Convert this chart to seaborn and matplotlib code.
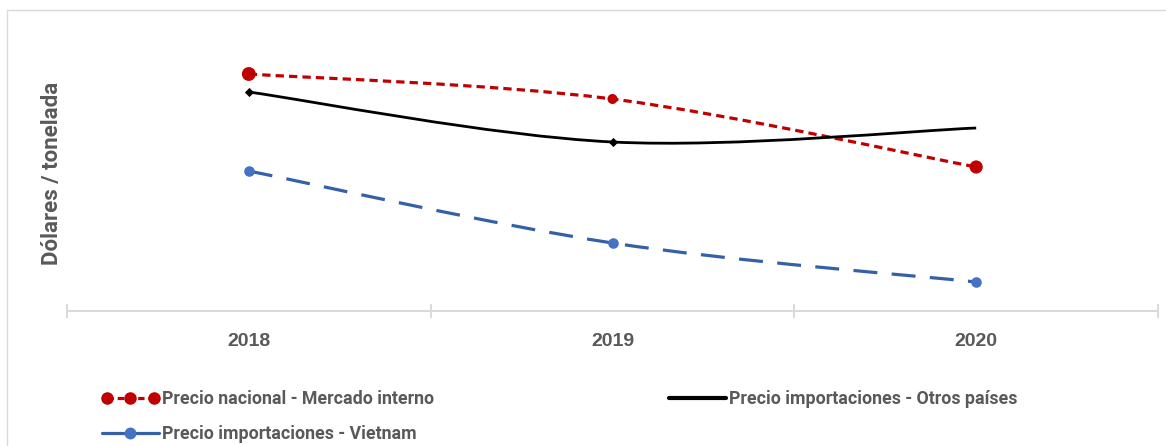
import numpy as np
import pandas as pd
import matplotlib
matplotlib.use("Agg")
import matplotlib.pyplot as plt
import seaborn as sns
from matplotlib.path import Path
from matplotlib.patches import PathPatch, Rectangle
from matplotlib.lines import Line2D
from matplotlib.legend_handler import HandlerLine2D

# ---- data (relative values, Dólares / tonelada) ----
years = ["2018", "2019", "2020"]
precio_nacional = [237, 212, 144]
precio_otros = [219, 169, 183]
precio_vietnam = [140, 68, 29]
series_names = ["Precio nacional - Mercado interno",
                "Precio importaciones - Otros países",
                "Precio importaciones - Vietnam"]

sns.set_theme(style="white")
FONT = ["Liberation Sans", "DejaVu Sans"]
NARROW = ["Roboto", "Liberation Sans", "DejaVu Sans"]
plt.rcParams["font.family"] = FONT
TXT = "#595959"

W, H = 1166, 446
fig = plt.figure(figsize=(W / 100, H / 100), dpi=100)
ax = fig.add_axes([67 / W, 1 - 311 / H, (1158 - 67) / W, (311 - 20) / H])

x = np.arange(len(years))

def smooth_path(xs, ys):
    pts = np.column_stack([xs, ys]).astype(float)
    n = len(pts)
    verts = [pts[0]]
    codes = [Path.MOVETO]
    for i in range(n - 1):
        p0 = pts[i - 1] if i > 0 else pts[i]
        p1 = pts[i]
        p2 = pts[i + 1]
        p3 = pts[i + 2] if i + 2 < n else pts[i + 1]
        c1 = p1 + (p2 - p0) / 6.0
        c2 = p2 - (p3 - p1) / 6.0
        verts += [c1, c2, p2]
        codes += [Path.CURVE4] * 3
    return Path(np.array(verts), codes)

RED = "#C00000"
BLUE_L = "#3560A8"
BLUE_M = "#4472C4"
BLACK = "#000000"

red_dash = (0, (2.6, 1.6))
blue_dash = (0, (7.5, 4.5))

ax.add_patch(PathPatch(smooth_path(x, precio_nacional), fill=False, ec=RED,
                       lw=2.3, ls=red_dash, capstyle="butt", zorder=2))
ax.add_patch(PathPatch(smooth_path(x, precio_otros), fill=False, ec=BLACK,
                       lw=2.0, ls="-", zorder=2))
ax.add_patch(PathPatch(smooth_path(x, precio_vietnam), fill=False, ec=BLUE_L,
                       lw=2.3, ls=blue_dash, capstyle="butt", zorder=2))

df_red = pd.DataFrame({"x": x, "y": precio_nacional})
df_blk = pd.DataFrame({"x": x[:2], "y": precio_otros[:2]})
df_blu = pd.DataFrame({"x": x, "y": precio_vietnam})
sns.scatterplot(data=df_red, x="x", y="y", ax=ax, color=RED, s=[100, 52, 90],
                linewidth=0, zorder=3, legend=False)
sns.scatterplot(data=df_blk, x="x", y="y", ax=ax, color=BLACK, marker="D",
                s=22, linewidth=0, zorder=3, legend=False)
sns.scatterplot(data=df_blu, x="x", y="y", ax=ax, color=BLUE_M, s=58,
                linewidth=0, zorder=3, legend=False)

ax.set_xlim(-0.5, len(years) - 0.5)
ax.set_ylim(0, 291)
for s in ["top", "right", "left"]:
    ax.spines[s].set_visible(False)
ax.spines["bottom"].set_color("#D9D9D9")
ax.spines["bottom"].set_linewidth(1.4)
ax.set_yticks([])
ax.set_xticks(x)
ax.set_xticklabels(years)
ax.set_xticks(np.arange(-0.5, len(years), 1.0), minor=True)
ax.tick_params(axis="x", which="major", length=0, pad=16, labelsize=14,
               labelcolor=TXT)
ax.tick_params(axis="x", which="minor", length=10, width=1.4, direction="inout",
               color="#D9D9D9", bottom=True)
for lab in ax.get_xticklabels():
    lab.set_fontweight("bold")
ax.set_xlabel("")
ax.set_ylabel("Dólares / tonelada", fontsize=16, fontweight="bold", color=TXT,
              family=NARROW)
ax.yaxis.label.set_va("center")
ax.yaxis.set_label_coords((52 - 67) / (1158 - 67), (311 - 173) / 291)

# legend
h_red = Line2D([], [], color=RED, lw=2.3, ls=(0, (2.0, 1.2)), marker="o",
               markersize=8)
h_blu = Line2D([], [], color=BLUE_L, lw=2.3, ls="-", marker="o",
               markerfacecolor=BLUE_M, markeredgecolor=BLUE_M, markersize=7.5)
h_blk = Line2D([], [], color=BLACK, lw=3, ls="-")
leg_kw = dict(frameon=False, handlelength=3.2, handletextpad=0.2,
              labelspacing=0.95, borderaxespad=0, borderpad=0,
              prop={"size": 12.8, "weight": "bold", "family": NARROW})
leg1 = fig.legend([h_red, h_blu], [series_names[0], series_names[2]],
                  loc="upper left", bbox_to_anchor=(102 / W, 1 - 390 / H),
                  handler_map={h_red: HandlerLine2D(numpoints=3),
                               h_blu: HandlerLine2D(numpoints=1)}, **leg_kw)
leg2 = fig.legend([h_blk], [series_names[1]],
                  loc="upper left", bbox_to_anchor=(669 / W, 1 - 390 / H),
                  **leg_kw)
for lg in (leg1, leg2):
    for t in lg.get_texts():
        t.set_color(TXT)

fig.patches.append(Rectangle((7 / W, -0.1), 1.2, 1.1 - 10 / H,
                             transform=fig.transFigure, fill=False,
                             ec="#D9D9D9", lw=1, zorder=0))

fig.savefig("out.png", dpi=100)
